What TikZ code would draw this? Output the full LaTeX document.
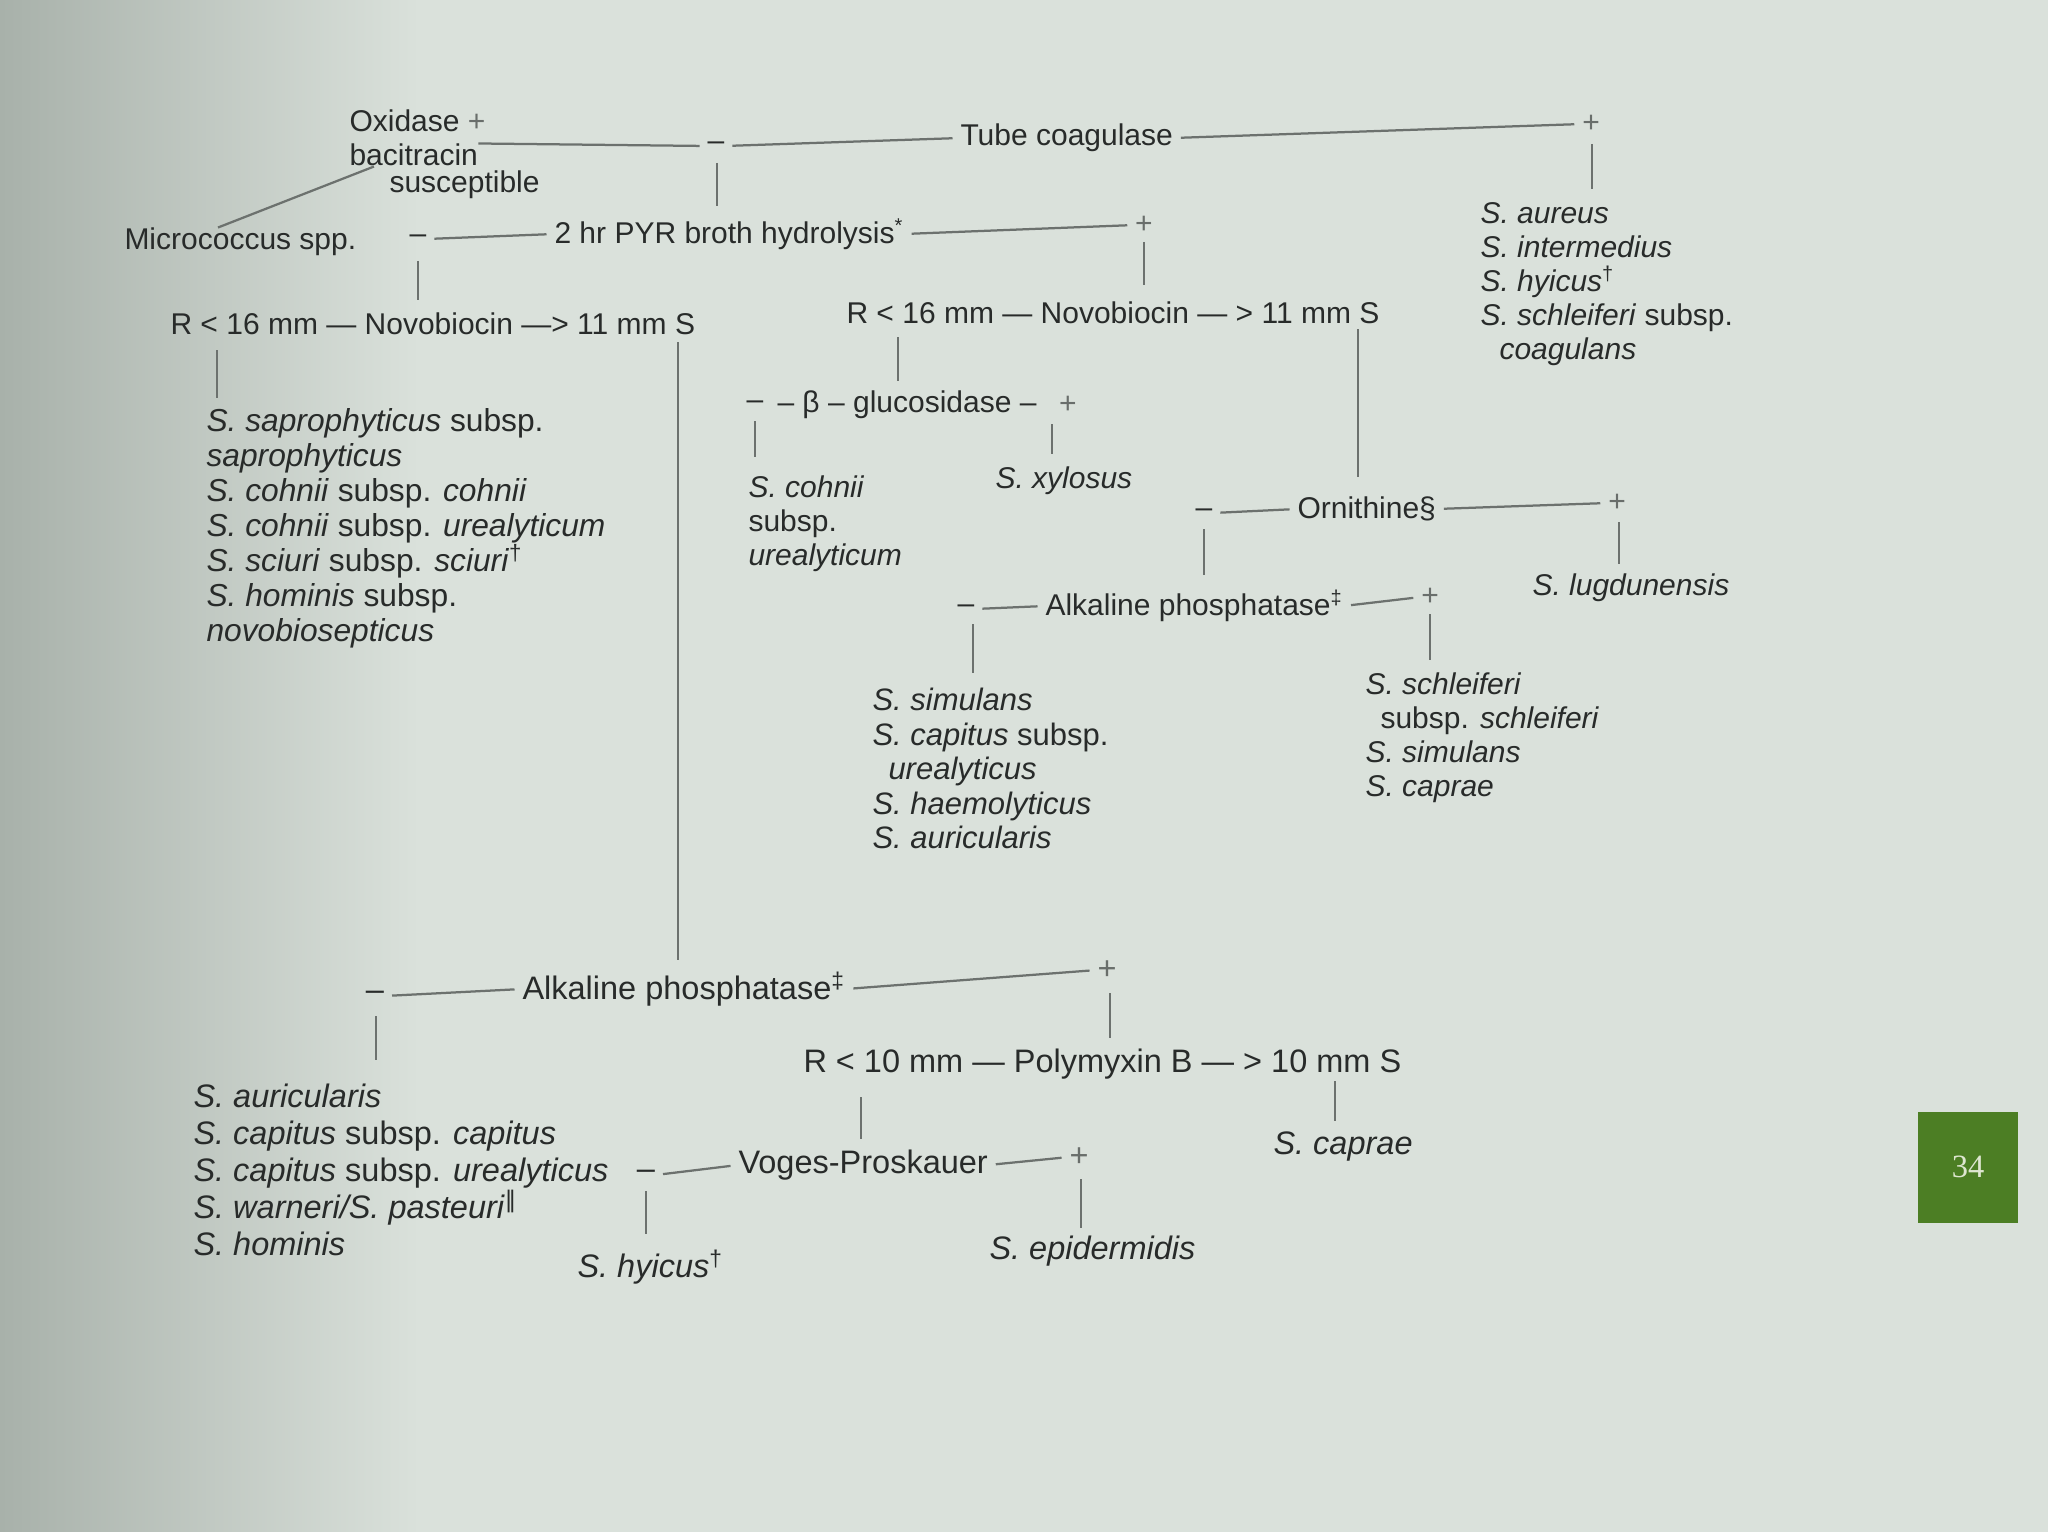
\documentclass[tikz,border=0pt]{standalone}
\usepackage{fontspec}
\setmainfont{Liberation Sans}
\newfontfamily\serifnum{Liberation Serif}
\newfontfamily\dvs{DejaVu Sans}
\usetikzlibrary{calc}
\definecolor{bg}{RGB}{218,225,219}
\definecolor{bgdark}{RGB}{168,177,170}
\definecolor{ink}{RGB}{40,43,42}
\definecolor{plusgray}{RGB}{105,110,107}
\definecolor{linegray}{RGB}{108,113,110}
\definecolor{pagegreen}{RGB}{76,126,36}
\definecolor{numwhite}{RGB}{222,230,208}
\begin{document}
\begin{tikzpicture}[x=0.4pt,y=-0.4pt,
  every node/.style={inner sep=0pt, text=ink, font=\fontsize{12}{13.6}\selectfont},
  lbl/.style={anchor=west},
  lst/.style={anchor=north west, align=left},
  sgn/.style={anchor=center},
  pl/.style={anchor=center, text=plusgray},
  fbig/.style={font=\fontsize{13}{14.8}\selectfont},
  cl/.style={draw=linegray, line width=0.9pt, shorten <=3pt, shorten >=3pt},
  vl/.style={draw=linegray, line width=0.9pt}]
\fill[bg] (0,0) rectangle (2048,1532);
\shade[left color=bgdark, right color=bg] (0,0) rectangle (420,1532);
\useasboundingbox (0,0) rectangle (2048,1532);

% --- top: oxidase / tube coagulase
\node[lbl] (oxid) at (349,121) {Oxidase \textcolor{plusgray}{+}};
\node[lbl] (bacit) at (349,155) {bacitracin};
\node[lbl] (susc) at (389,185) {susceptible};
\node[sgn] (mtop) at (716,146) {–};
\node[lbl] (tube) at (960,138) {Tube coagulase};
\node[pl] (ptop) at (1591,124) {+};
\node[lst] (coagpos) at (1480,202) {\textit{S. aureus}\\\textit{S. intermedius}\\\textit{S. hyicus}\textsuperscript{†}\\\textit{S. schleiferi} subsp.\\\hspace*{7.6pt}\textit{coagulans}};
\draw[cl, shorten <=0pt] (bacit.north east) -- (mtop.west);
\draw[cl] (mtop.east) -- (tube.west);
\draw[cl] (tube.east) -- (ptop.west);
\draw[vl] ($(ptop)+(1,20)$) -- ++(0,45);
\draw[vl] ($(mtop)+(1,17)$) -- ++(0,43);

% --- PYR
\node[lbl] (micro) at (124,242) {Micrococcus spp.};
\draw[vl] ($(micro.north west)+(94,0)$) -- ($(bacit.south west)+(25,0)$);
\node[sgn] (mpyr) at (418,239) {–};
\node[lbl] (pyr) at (554,234) {2 hr PYR broth hydrolysis\textsuperscript{*}};
\node[pl] (ppyr) at (1144,225) {+};
\draw[cl] (mpyr.east) -- (pyr.west);
\draw[cl] (pyr.east) -- (ppyr.west);
\draw[vl] ($(mpyr)+(0,22)$) -- ++(0,39);
\draw[vl] ($(ppyr)+(0,17)$) -- ++(0,43);

% --- Novobiocin rows
\node[lbl] (novoA) at (170,324) {R < 16 mm — Novobiocin —> 11 mm S};
\node[lbl] (novoB) at (846,313) {R < 16 mm — Novobiocin — > 11 mm S};
\draw[vl] ($(novoA.west)+(47,26)$) -- ++(0,48);
\draw[vl] ($(novoB.west)+(52,24)$) -- ++(0,44);
\draw[vl] ($(novoB.west)+(512,16)$) -- ++(0,148);

\node[lst, font=\fontsize{12.7}{14}\selectfont] (listA) at (206,408) {\textit{S. saprophyticus} subsp.\\\textit{saprophyticus}\\\textit{S. cohnii} subsp. \textit{cohnii}\\\textit{S. cohnii} subsp. \textit{urealyticum}\\\textit{S. sciuri} subsp. \textit{sciuri}\textsuperscript{†}\\\textit{S. hominis} subsp.\\\textit{novobiosepticus}};

% --- beta-glucosidase
\node[sgn] (mglu) at (755,405) {–};
\node[lbl] (glu) at (777,405) {– β – glucosidase –};
\node[pl] (pglu) at (1068,405) {+};
\draw[vl] ($(mglu)+(0,16)$) -- ++(0,36);
\draw[vl] ($(pglu)+(-16,19)$) -- ++(0,30);
\node[lst] (cohnii) at (748,475) {\textit{S. cohnii}\\subsp.\\\textit{urealyticum}};
\node[lbl] (xyl) at (995,481) {\textit{S. xylosus}};

% --- Ornithine
\node[sgn] (morn) at (1204,513) {–};
\node[lbl] (orn) at (1297,509) {Ornithine§};
\node[pl] (porn) at (1617,503) {+};
\draw[cl] (morn.east) -- (orn.west);
\draw[cl] (orn.east) -- (porn.west);
\draw[vl] ($(morn)+(0,16)$) -- ++(0,46);
\draw[vl] ($(porn)+(2,19)$) -- ++(0,42);
\node[lbl] (lugd) at (1532,588) {\textit{S. lugdunensis}};

% --- Alkaline phosphatase (upper)
\node[sgn] (malk1) at (966,609) {–};
\node[lbl] (alk1) at (1045,606) {Alkaline phosphatase\textsuperscript{‡}};
\node[pl] (palk1) at (1430,597) {+};
\draw[cl] (malk1.east) -- (alk1.west);
\draw[cl] (alk1.east) -- (palk1.west);
\draw[vl] ($(malk1)+(7,15)$) -- ++(0,49);
\draw[vl] ($(palk1)+(0,17)$) -- ++(0,46);
\node[lst, font=\fontsize{12.4}{13.8}\selectfont] (simA) at (872,688) {\textit{S. simulans}\\\textit{S. capitus} subsp.\\\hspace*{6.4pt}\textit{urealyticus}\\\textit{S. haemolyticus}\\\textit{S. auricularis}};
\node[lst] (schl) at (1365,672) {\textit{S. schleiferi}\\\hspace*{6pt}subsp. \textit{schleiferi}\\\textit{S. simulans}\\\textit{S. caprae}};

% --- long vertical down to lower alkaline phosphatase
\draw[vl] ($(novoA.west)+(508,18)$) -- ++(0,618);

% --- Alkaline phosphatase (lower)
\node[sgn, fbig] (malk2) at (375,996) {–};
\node[lbl, fbig] (alk2) at (522,989) {Alkaline phosphatase\textsuperscript{‡}};
\node[pl, fbig] (palk2) at (1107,970) {+};
\draw[cl] (malk2.east) -- (alk2.west);
\draw[cl] (alk2.east) -- (palk2.west);
\draw[vl] ($(malk2)+(1,20)$) -- ++(0,44);
\draw[vl] ($(palk2)+(3,23)$) -- ++(0,45);
\node[lst, fbig] (listB) at (193,1083) {\textit{S. auricularis}\\\textit{S. capitus} subsp. \textit{capitus}\\\textit{S. capitus} subsp. \textit{urealyticus}\\\textit{S. warneri/S. pasteuri}\textsuperscript{\dvs ‖}\\\textit{S. hominis}};

% --- Polymyxin B
\node[lbl, fbig] (poly) at (803,1064) {R < 10 mm — Polymyxin B — > 10 mm S};
\draw[vl] ($(poly.west)+(58,33)$) -- ++(0,42);
\draw[vl] ($(poly.west)+(532,17)$) -- ++(0,40);
\node[lbl, fbig] (capr2) at (1273,1147) {\textit{S. caprae}};

% --- Voges-Proskauer
\node[sgn, fbig] (mvp) at (646,1175) {–};
\node[lbl, fbig] (vp) at (738,1165) {Voges-Proskauer};
\node[pl, fbig] (pvp) at (1079,1157) {+};
\draw[cl] (mvp.east) -- (vp.west);
\draw[cl] (vp.east) -- (pvp.west);
\draw[vl] ($(mvp)+(0,16)$) -- ++(0,43);
\draw[vl] ($(pvp)+(2,22)$) -- ++(0,49);
\node[lbl, fbig] (hyic2) at (577,1267) {\textit{S. hyicus}\textsuperscript{†}};
\node[lbl, fbig] (epid) at (989,1251) {\textit{S. epidermidis}};

% --- page number tab
\node[fill=pagegreen, minimum width=40pt, minimum height=44.4pt, text=numwhite,
      font=\serifnum\fontsize{13}{13}\selectfont] (page) at (1968,1167) {34};
\end{tikzpicture}
\end{document}
